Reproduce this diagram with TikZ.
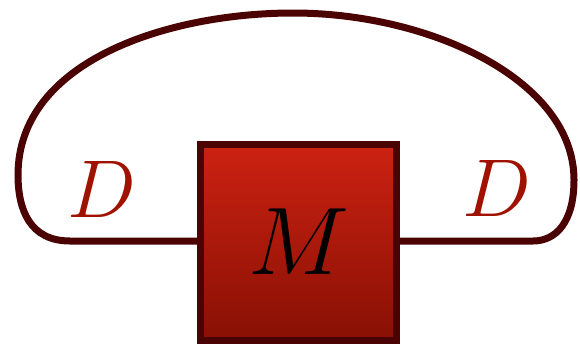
\RequirePackage{fix-cm}
\documentclass[tikz,border=0pt]{standalone}
\usepackage{xcolor}
\usepackage{tikz}
\usetikzlibrary{positioning}
\definecolor{Border}{HTML}{4A0202}
\definecolor{BoxTop}{HTML}{CC2212}
\definecolor{BoxBottom}{HTML}{881004}
\definecolor{LabelRed}{HTML}{A01200}

\begin{document}
\begin{tikzpicture}[
    x=1pt,y=-1pt,
    block/.style={rectangle,draw=Border,line width=7pt,top color=BoxTop,bottom color=BoxBottom,minimum size=196pt,inner sep=0pt},
    wire/.style={draw=Border,line width=7pt},
    leg/.style={text=LabelRed,font=\fontsize{82}{96}\selectfont}
]
\useasboundingbox (0,0) rectangle (580,343);
\coordinate (lcorner) at (70,241);
\coordinate (rcorner) at (533,241);
\node[block] (mat) at (298.5,242) {\fontsize{96}{110}\selectfont$M$};
% the loop joining both legs of M
\draw[wire] (mat.west |- lcorner) -- (lcorner)
    .. controls (30,241) and (18,210) .. (18,175)
    .. controls (18,60) and (170,13) .. (293,13)
    .. controls (430,13) and (574,80) .. (574,180)
    .. controls (574,222) and (556,241) .. (rcorner) -- (mat.east |- rcorner);
\node[leg] (dl) at (102,189) {$D$};
\node[leg] (dr) at (497,188) {$D$};
\end{tikzpicture}
\end{document}
